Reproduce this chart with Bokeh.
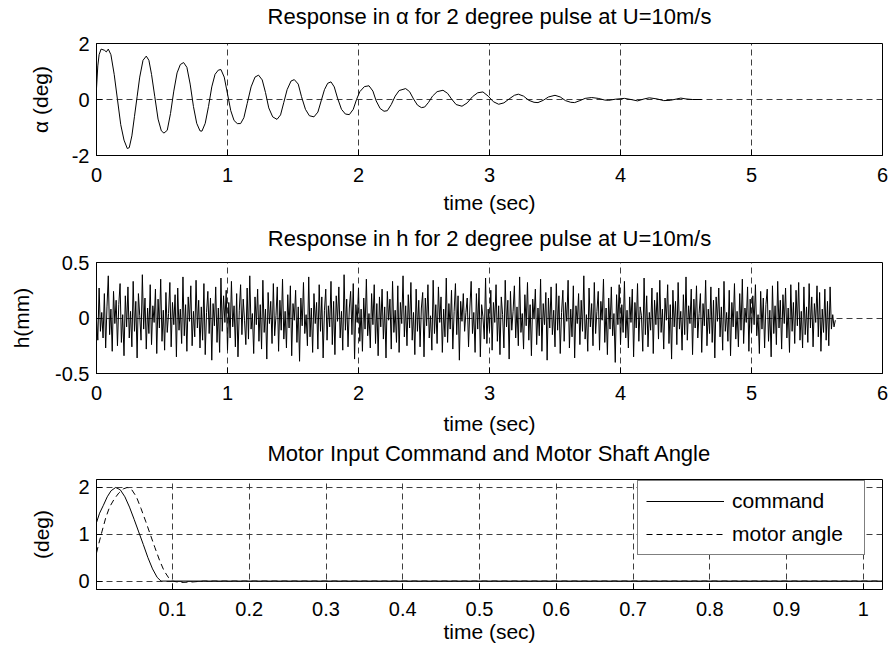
from bokeh.plotting import figure
from bokeh.layouts import column
from bokeh.models import FixedTicker, CustomJSTickFormatter, Range1d, LinearAxis
from bokeh.embed import file_html
from bokeh.resources import INLINE

# ---------------- data ----------------
alpha_t = [0.000, 0.010, 0.020, 0.035, 0.060, 0.075, 0.090, 0.110, 0.135, 0.160,
           0.185, 0.210, 0.235, 0.250, 0.270, 0.290, 0.310, 0.330, 0.355, 0.380,
           0.400, 0.420, 0.445, 0.470, 0.495, 0.515, 0.540, 0.565, 0.590, 0.615,
           0.640, 0.665, 0.690, 0.715, 0.740, 0.765, 0.790, 0.805, 0.830, 0.855,
           0.880, 0.905, 0.930, 0.950, 0.975, 1.000, 1.025, 1.050, 1.075, 1.100,
           1.125, 1.150, 1.180, 1.210, 1.237, 1.265, 1.290, 1.315, 1.345, 1.378,
           1.405, 1.430, 1.455, 1.485, 1.510, 1.540, 1.565, 1.595, 1.625, 1.660,
           1.690, 1.715, 1.740, 1.765, 1.790, 1.815, 1.840, 1.870, 1.900, 1.930,
           1.960, 1.985, 2.010, 2.045, 2.080, 2.110, 2.135, 2.165, 2.195, 2.220,
           2.250, 2.280, 2.310, 2.360, 2.390, 2.420, 2.450, 2.480, 2.505, 2.535,
           2.565, 2.600, 2.645, 2.680, 2.710, 2.745, 2.790, 2.830, 2.870, 2.910,
           2.950, 2.990, 3.030, 3.070, 3.110, 3.150, 3.190, 3.220, 3.260, 3.300,
           3.340, 3.370, 3.410, 3.450, 3.500, 3.540, 3.580, 3.620, 3.650, 3.690,
           3.730, 3.780, 3.830, 3.880, 3.910, 3.960, 4.030, 4.080, 4.130, 4.180,
           4.220, 4.280, 4.330, 4.380, 4.430, 4.460, 4.500, 4.550, 4.620]
alpha_v = [0.40, 1.20, 1.60, 1.80, 1.76, 1.70, 1.80, 1.60, 0.90, 0.00,
           -0.90, -1.45, -1.75, -1.72, -1.30, -0.60, 0.10, 0.80, 1.40, 1.55,
           1.40, 0.90, 0.10, -0.70, -1.12, -1.20, -1.10, -0.50, 0.30, 0.95,
           1.25, 1.32, 1.15, 0.55, -0.25, -0.85, -1.12, -1.13, -0.85, -0.25,
           0.45, 0.90, 1.05, 1.07, 0.80, 0.20, -0.40, -0.75, -0.86, -0.86,
           -0.65, -0.15, 0.45, 0.80, 0.87, 0.70, 0.25, -0.30, -0.62, -0.71,
           -0.55, -0.10, 0.35, 0.66, 0.71, 0.55, 0.10, -0.35, -0.58, -0.62,
           -0.45, -0.05, 0.35, 0.58, 0.63, 0.45, 0.05, -0.35, -0.52, -0.54,
           -0.35, 0.00, 0.28, 0.46, 0.49, 0.30, -0.05, -0.32, -0.42, -0.40,
           -0.18, 0.12, 0.32, 0.39, 0.28, 0.02, -0.20, -0.29, -0.27, -0.10,
           0.12, 0.28, 0.33, 0.22, 0.02, -0.18, -0.24, -0.12, 0.10, 0.24,
           0.27, 0.12, -0.08, -0.17, -0.12, 0.02, 0.15, 0.19, 0.12, -0.03,
           -0.10, -0.11, -0.03, 0.09, 0.15, 0.09, -0.04, -0.10, -0.11, -0.04,
           0.04, 0.07, 0.04, -0.02, -0.03, 0.01, 0.04, 0.00, -0.05, 0.02,
           0.06, 0.02, -0.04, -0.03, 0.02, 0.05, 0.02, 0.00, 0.00]

h_dt = 0.01  # sample interval (s)
h_v = [0.00, -0.20, 0.27, -0.12, 0.05, -0.18, 0.22, -0.27, 0.10, 0.38, -0.15, 0.08, -0.30, 0.24, -0.05, 0.16, -0.25, 0.12, 0.31, -0.22,
       0.03, -0.34, 0.20, -0.08, 0.28, -0.18, 0.06, -0.26, 0.33, -0.12, 0.15, -0.36, 0.22, 0.02, -0.20, 0.39, -0.10, 0.18, -0.28, 0.09,
       -0.14, 0.30, -0.24, 0.11, -0.04, 0.26, -0.32, 0.17, -0.09, 0.35, -0.21, 0.07, -0.29, 0.23, -0.13, 0.04, 0.32, -0.26, 0.14, -0.06,
       0.21, -0.35, 0.27, -0.11, 0.08, -0.23, 0.37, -0.16, 0.12, -0.30, 0.19, -0.03, 0.29, -0.25, 0.06, -0.17, 0.34, -0.09, 0.16, -0.27,
       0.10, -0.20, 0.31, -0.33, 0.05, 0.24, -0.14, 0.18, -0.38, 0.13, -0.07, 0.28, -0.22, 0.09, -0.31, 0.36, -0.12, 0.20, -0.04, 0.25,
       -0.29, 0.14, -0.18, 0.33, -0.08, 0.11, -0.26, 0.22, -0.35, 0.07, 0.30, -0.15, 0.17, -0.02, -0.24, 0.27, -0.19, 0.38, -0.10, 0.04,
       -0.32, 0.19, -0.06, 0.26, -0.21, 0.12, -0.28, 0.34, -0.13, 0.08, -0.37, 0.23, -0.05, 0.15, -0.23, 0.31, -0.16, 0.02, 0.28, -0.30,
       0.16, -0.11, 0.35, -0.19, 0.06, -0.27, 0.21, -0.09, 0.29, -0.34, 0.13, -0.02, 0.25, -0.22, 0.10, -0.39, 0.18, -0.07, 0.32, -0.14,
       0.03, -0.25, 0.37, -0.17, 0.09, -0.31, 0.22, -0.05, 0.14, -0.28, 0.30, -0.12, 0.19, -0.36, 0.07, 0.26, -0.20, 0.11, -0.08, 0.33,
       -0.24, 0.15, -0.33, 0.20, -0.03, 0.28, -0.18, 0.06, -0.29, 0.39, -0.11, 0.17, -0.26, 0.09, 0.24, -0.15, 0.31, -0.37, 0.12, -0.04,
       0.27, -0.21, 0.08, -0.30, 0.18, -0.10, 0.35, -0.16, 0.04, -0.27, 0.22, -0.06, 0.30, -0.23, 0.13, -0.34, 0.19, -0.08, 0.26, -0.19,
       0.10, -0.36, 0.24, -0.02, 0.17, -0.28, 0.33, -0.13, 0.07, -0.22, 0.29, -0.31, 0.14, -0.05, 0.38, -0.17, 0.11, -0.25, 0.21, -0.09,
       0.32, -0.20, 0.05, -0.33, 0.26, -0.12, 0.16, -0.26, 0.09, 0.23, -0.35, 0.18, -0.07, 0.30, -0.18, 0.02, -0.29, 0.34, -0.14, 0.12,
       -0.23, 0.28, -0.04, 0.19, -0.31, 0.08, -0.17, 0.36, -0.22, 0.13, -0.10, 0.25, -0.28, 0.06, 0.31, -0.15, 0.20, -0.38, 0.15, -0.03,
       0.22, -0.12, 0.05,
       0.18, -0.26, 0.09, 0.33, -0.14, 0.05, -0.31, 0.22, -0.10, 0.27, -0.35, 0.12, 0.01, -0.19, 0.36, -0.23, 0.08, -0.12, 0.25, -0.29,
       0.14, -0.04, 0.30, -0.21, 0.11, -0.33, 0.19, 0.03, -0.27, 0.34, -0.08, 0.16, -0.37, 0.24, -0.11, 0.06, 0.29, -0.18, 0.10, -0.25,
       0.37, -0.13, 0.04, -0.28, 0.21, -0.07, 0.32, -0.20, 0.12, -0.34, 0.17, -0.01, 0.26, -0.24, 0.09, -0.16, 0.35, -0.30, 0.13, -0.06,
       0.23, -0.38, 0.18, -0.09, 0.28, -0.15, 0.07, -0.26, 0.31, -0.11, 0.20, -0.32, 0.05, 0.25, -0.21, 0.14, -0.03, 0.34, -0.27, 0.08,
       -0.17, 0.29, -0.36, 0.11, -0.05, 0.22, -0.24, 0.16, -0.12, 0.38, -0.19, 0.03, -0.30, 0.27, -0.08, 0.13, -0.25, 0.32, -0.14, 0.06,
       0.24, -0.29, 0.15, -0.02, 0.35, -0.22, 0.09, -0.33, 0.18, -0.10, 0.28, -0.16, 0.04, -0.40, 0.21, -0.06, 0.30, -0.24, 0.12, -0.13,
       0.33, -0.18, 0.07, -0.27, 0.19, -0.04, 0.26, -0.35, 0.14, -0.09, 0.31, -0.21, 0.10, 0.02, -0.30, 0.36, -0.15, 0.20, -0.26, 0.05,
       -0.11, 0.27, -0.32, 0.16, -0.06, 0.23, -0.19, 0.34, -0.13, 0.08, -0.28, 0.18, -0.02, 0.30, -0.23, 0.12, -0.37, 0.25, -0.08, 0.15,
       -0.24, 0.32, -0.10, 0.06, -0.29, 0.21, -0.15, 0.37, -0.20, 0.11, -0.05, 0.26, -0.33, 0.17, -0.09, 0.29, -0.18, 0.04, 0.22, -0.31,
       0.13, -0.07, 0.34, -0.25, 0.08, -0.14, 0.28, -0.22, 0.16, -0.36, 0.19, -0.03, 0.27, -0.17, 0.10, -0.29, 0.33, -0.12, 0.05, -0.21,
       0.25, -0.34, 0.14, -0.08, 0.31, -0.19, 0.06, -0.26, 0.22, -0.11, 0.35, -0.23, 0.09, -0.04, 0.28, -0.30, 0.17, -0.13, 0.20, -0.06,
       0.30, -0.16, 0.03, -0.32, 0.24, -0.10, 0.18, -0.27, 0.12, 0.26, -0.21, 0.07, -0.35, 0.29, -0.14, 0.11, -0.24, 0.33, -0.09, 0.16,
       -0.28, 0.21, -0.05, 0.27, -0.18, 0.09, -0.31, 0.30, -0.12, 0.14, -0.23, 0.25, -0.07, 0.32, -0.20, 0.06, -0.27, 0.28, -0.15, 0.10,
       -0.22, 0.31, -0.09, 0.19, -0.26, 0.13, -0.04, 0.29, -0.17, 0.23, -0.30, 0.08, -0.13, 0.26, -0.20, 0.15, -0.25, 0.28, -0.10, 0.03,
       -0.08, -0.02]
h_t = [i * h_dt for i in range(len(h_v))]

cmd_t = [0.001, 0.005, 0.010, 0.015, 0.020, 0.026, 0.032, 0.038, 0.044, 0.050,
         0.056, 0.062, 0.068, 0.074, 0.080, 0.085, 0.100, 1.025]
cmd_v = [1.25, 1.45, 1.62, 1.80, 1.93, 2.00, 1.95, 1.80, 1.58, 1.32,
         1.05, 0.78, 0.50, 0.26, 0.08, 0.00, 0.00, 0.00]
mot_t = [0.001, 0.004, 0.008, 0.013, 0.018, 0.024, 0.030, 0.036, 0.041, 0.047,
         0.053, 0.059, 0.065, 0.071, 0.077, 0.083, 0.089, 0.095, 0.100, 0.110,
         0.125, 0.140, 1.025]
mot_v = [0.60, 0.80, 1.05, 1.35, 1.58, 1.75, 1.88, 1.97, 2.00, 1.95,
         1.80, 1.55, 1.28, 1.00, 0.72, 0.45, 0.22, 0.07, 0.00, -0.03,
         -0.02, 0.00, 0.00]

x_ticks_long = [0, 1, 2, 3, 4, 5, 6]
alpha_yticks = [-2, 0, 2]
h_yticks = [-0.5, 0, 0.5]
motor_xticks = [0.1, 0.2, 0.3, 0.4, 0.5, 0.6, 0.7, 0.8, 0.9, 1.0]
motor_yticks = [0, 1, 2]

titles = ["Response in \u03b1 for 2 degree pulse at U=10m/s",
          "Response in h for 2 degree pulse at U=10m/s",
          "Motor Input Command and Motor Shaft Angle"]
ylabels = ["\u03b1 (deg)", "h(mm)", "(deg)"]
xlabel = "time (sec)"

FONT = "Liberation Sans"
TICK_FS = "20px"
LAB_FS = "21px"
TITLE_FS = "22px"
W = 895
fmt_code = "return String(Math.round(tick*1000)/1000);"


def make_fig(height, top, bottom, xr, yr, xt, yt, title, ylab, t_standoff,
             xl_standoff, xlab_standoff, yl_standoff):
    p = figure(width=W, height=height, output_backend="svg", toolbar_location=None,
               x_range=Range1d(*xr), y_range=Range1d(*yr),
               min_border_left=96, min_border_right=13,
               min_border_top=top, min_border_bottom=bottom)
    p.outline_line_color = "black"
    p.outline_line_width = 1
    p.outline_line_alpha = 1
    p.background_fill_color = "white"
    p.border_fill_color = "white"
    p.xaxis.ticker = FixedTicker(ticks=xt)
    p.yaxis.ticker = FixedTicker(ticks=yt)
    for ax in (p.xaxis[0], p.yaxis[0]):
        ax.formatter = CustomJSTickFormatter(code=fmt_code)
        ax.major_label_text_font = FONT
        ax.major_label_text_font_size = TICK_FS
        ax.major_label_text_color = "black"
        ax.axis_label_text_font = FONT
        ax.axis_label_text_font_size = LAB_FS
        ax.axis_label_text_font_style = "normal"
        ax.axis_label_text_color = "black"
        ax.axis_line_color = "black"
        ax.major_tick_line_color = "black"
        ax.major_tick_in = 6
        ax.major_tick_out = 0
        ax.minor_tick_line_color = None
    p.xaxis.axis_label = xlabel
    p.yaxis.axis_label = ylab
    p.xaxis.major_label_standoff = xl_standoff
    p.xaxis.axis_label_standoff = xlab_standoff
    p.yaxis.major_label_standoff = 7
    p.yaxis.axis_label_standoff = yl_standoff
    for g in (p.xgrid[0], p.ygrid[0]):
        g.grid_line_color = "#2a2a2a"
        g.grid_line_dash = "6 4"
        g.grid_line_width = 1
        g.grid_line_alpha = 0.9
    # the subplot title, set as the label of a bare axis above the frame
    ta = LinearAxis(axis_label=title, ticker=FixedTicker(ticks=[]),
                    axis_line_color=None, major_tick_line_color=None,
                    minor_tick_line_color=None, major_tick_in=0, major_tick_out=0,
                    minor_tick_in=0, minor_tick_out=0, major_label_standoff=0,
                    axis_label_standoff=t_standoff, axis_label_text_font=FONT,
                    axis_label_text_font_size=TITLE_FS,
                    axis_label_text_font_style="normal",
                    axis_label_text_color="black")
    p.add_layout(ta, "above")
    return p


p1 = make_fig(222, 43, 67, (0, 6), (-2, 2), x_ticks_long, alpha_yticks,
              titles[0], ylabels[0], 15, 12, 6, 17)
p1.line(alpha_t, alpha_v, line_color="black", line_width=1)

p2 = make_fig(215, 40, 64, (0, 6), (-0.5, 0.5), x_ticks_long, h_yticks,
              titles[1], ylabels[1], 12, 12, 9, 19)
p2.line(h_t, h_v, line_color="black", line_width=1)

p3 = make_fig(215, 42, 63, (0.001, 1.025), (-0.18, 2.17), motor_xticks, motor_yticks,
              titles[2], ylabels[2], 14, 12, 1, 22)
p3.line(cmd_t, cmd_v, line_color="black", line_width=1, legend_label="command")
p3.line(mot_t, mot_v, line_color="black", line_width=1, line_dash="6 4",
        legend_label="motor angle")
lg = p3.legend[0]
lg.location = (541, 34)
lg.border_line_color = "black"
lg.border_line_width = 1
lg.background_fill_color = "white"
lg.background_fill_alpha = 1
lg.label_text_font = FONT
lg.label_text_font_size = LAB_FS
lg.label_text_color = "black"
lg.padding = 8
lg.margin = 0
lg.spacing = 9
lg.glyph_width = 78
lg.glyph_height = 24
lg.label_height = 24
lg.label_width = 124
lg.label_standoff = 8

layout = column(p1, p2, p3, spacing=0)
open("out.html", "w").write(file_html(layout, INLINE))
